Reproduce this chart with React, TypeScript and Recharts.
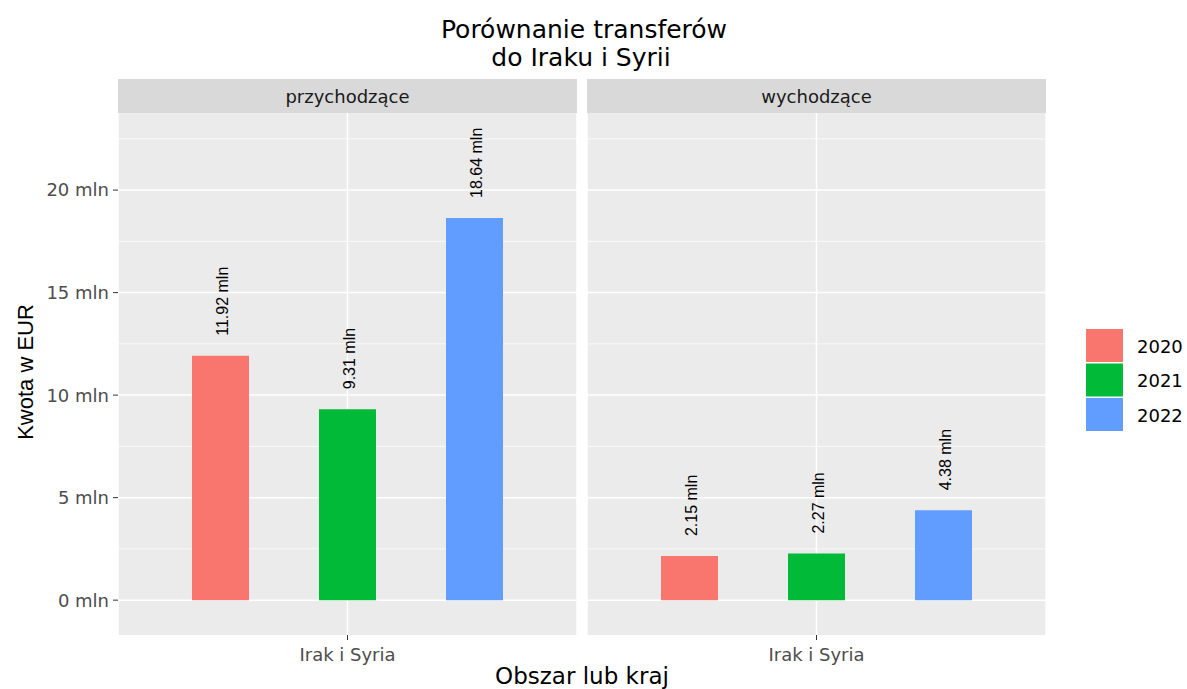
import { BarChart, Bar, XAxis, YAxis, CartesianGrid, LabelList } from "recharts";

const years = ["2020", "2021", "2022"];
const colors = ["#F8766D", "#00BA38", "#619CFF"];
const panels = ["przychodzące", "wychodzące"];
const category = "Irak i Syria";
const incoming = [11.92, 9.31, 18.64];
const outgoing = [2.15, 2.27, 4.38];
const yTicks = [0, 5, 10, 15, 20];
const yMinor = [2.5, 7.5, 12.5, 17.5, 22.5];

const W = 1187;
const H = 689;
const sans = "'DejaVu Sans', sans-serif";
const arial = "'Liberation Sans', Arial, sans-serif";

const toRow = (vals: number[]) => {
  const row: Record<string, string | number> = { obszar: category };
  years.forEach((y, i) => (row["y" + y] = vals[i]));
  return row;
};

const fmt = (v: number) => `${v.toFixed(2)} mln`;

function BarLabel(props: any) {
  const { x, y, width, value } = props;
  const cx = x + width / 2 + 2;
  const ty = y - 20;
  return (
    <text
      x={cx}
      y={ty}
      transform={`rotate(-90, ${cx}, ${ty})`}
      textAnchor="start"
      dominantBaseline="central"
      fontFamily={arial}
      fontSize={16}
      fill="#000"
    >
      {fmt(value)}
    </text>
  );
}

function Panel({ values, showY, width }: { values: number[]; showY: boolean; width: number }) {
  const data = [toRow(values)];
  return (
    <BarChart
      width={width}
      height={H}
      data={data}
      margin={{ top: 113, right: 3, left: 0, bottom: 24 }}
      barSize={57}
      barGap={70}
    >
      <CartesianGrid
        fill="#EBEBEB"
        stroke="#FFFFFF"
        strokeWidth={1.5}
        vertical={true}
        horizontalValues={yTicks}
      />
      <CartesianGrid
        stroke="#FFFFFF"
        strokeWidth={0.75}
        vertical={false}
        horizontalValues={yMinor}
      />
      <XAxis
        dataKey="obszar"
        height={30}
        axisLine={false}
        tickLine={{ stroke: "#333333" }}
        tickSize={5}
        tickMargin={8}
        tick={{ fontSize: 18, fill: "#4D4D4D", fontFamily: sans }}
      />
      <YAxis
        hide={!showY}
        width={showY ? 118 : 0}
        type="number"
        domain={[-1.7, 23.76]}
        allowDataOverflow
        ticks={yTicks}
        axisLine={false}
        tickLine={{ stroke: "#333333" }}
        tickSize={5}
        tickMargin={4}
        tickFormatter={(v) => `${v} mln`}
        tick={{ fontSize: 18, fill: "#4D4D4D", fontFamily: sans }}
      />
      {years.map((y, i) => (
        <Bar key={y} dataKey={"y" + y} fill={colors[i]} isAnimationActive={false}>
          <LabelList dataKey={"y" + y} content={<BarLabel />} />
        </Bar>
      ))}
    </BarChart>
  );
}

export default function App() {
  return (
    <div style={{ position: "absolute", left: 0, top: 0, width: W, height: H, background: "#fff" }}>
      <div style={{ position: "absolute", left: 0, top: 0 }}>
        <Panel values={incoming} showY={true} width={580} />
      </div>
      <div style={{ position: "absolute", left: 587, top: 0 }}>
        <Panel values={outgoing} showY={false} width={462} />
      </div>
      <svg
        width={W}
        height={H}
        style={{ position: "absolute", left: 0, top: 0, pointerEvents: "none" }}
      >
        <text x={584} y={38} textAnchor="middle" fontFamily={sans} fontSize={25} fill="#000">
          Porównanie transferów
        </text>
        <text x={581} y={66} textAnchor="middle" fontFamily={sans} fontSize={25} fill="#000">
          do Iraku i Syrii
        </text>
        {panels.map((p, i) => (
          <g key={p}>
            <rect x={118 + i * 469} y={79} width={459} height={34} fill="#D9D9D9" />
            <text
              x={118 + i * 469 + 229.5}
              y={103}
              textAnchor="middle"
              fontFamily={sans}
              fontSize={18}
              fill="#1A1A1A"
            >
              {p}
            </text>
          </g>
        ))}
        <text
          x={33}
          y={372}
          transform="rotate(-90, 33, 372)"
          textAnchor="middle"
          fontFamily={arial}
          fontSize={22}
          fill="#000"
        >
          Kwota w EUR
        </text>
        <text x={582} y={684} textAnchor="middle" fontFamily={sans} fontSize={23} fill="#000">
          Obszar lub kraj
        </text>
        {years.map((y, i) => (
          <g key={y}>
            <rect x={1086} y={329 + i * 34.5} width={37} height={33} fill={colors[i]} />
            <text
              x={1137}
              y={346 + i * 34.5}
              dominantBaseline="central"
              fontFamily={sans}
              fontSize={18}
              fill="#000"
            >
              {y}
            </text>
          </g>
        ))}
      </svg>
    </div>
  );
}
